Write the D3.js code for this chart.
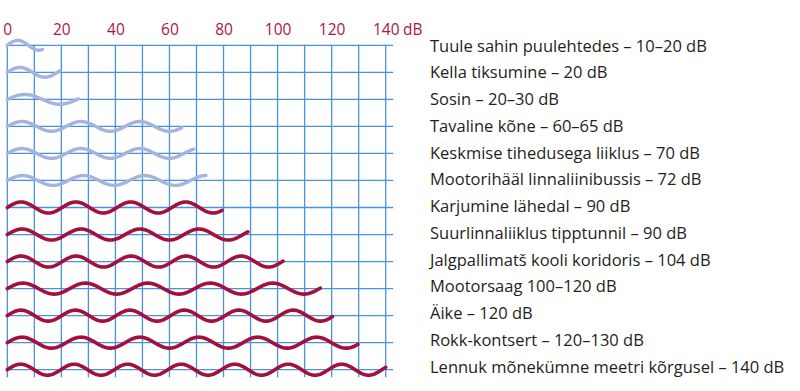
<!DOCTYPE html>
<html>
<head>
<meta charset="utf-8">
<script src="https://cdn.jsdelivr.net/npm/d3@7"></script>
<style>
  html, body { margin: 0; padding: 0; background: #ffffff; }
  svg { display: block; }
</style>
</head>
<body>
<svg id="chart" width="800" height="391"></svg>
<script>
// ---- data ----
const labels = [
  "Tuule sahin puulehtedes – 10–20 dB",
  "Kella tiksumine – 20 dB",
  "Sosin – 20–30 dB",
  "Tavaline kõne – 60–65 dB",
  "Keskmise tihedusega liiklus – 70 dB",
  "Mootorihääl linnaliinibussis – 72 dB",
  "Karjumine lähedal – 90 dB",
  "Suurlinnaliiklus tipptunnil – 90 dB",
  "Jalgpallimatš kooli koridoris – 104 dB",
  "Mootorsaag 100–120 dB",
  "Äike – 120 dB",
  "Rokk-kontsert – 120–130 dB",
  "Lennuk mõnekümne meetri kõrgusel – 140 dB"
];
// length of each drawn wave (dB)
const waveEnd = [13, 19.5, 26.3, 64.5, 69, 73.5, 79.5, 89, 102, 115.8, 120.3, 129.7, 140];
// wavelength of each drawn wave (dB)
const wavePeriod = [15.5, 18.5, 25.9, 21.8, 21.8, 22.6, 20.3, 21.8, 20.35, 23.1, 20.15, 21.8, 19.8];
const loudness = ["quiet","quiet","quiet","quiet","quiet","quiet","loud","loud","loud","loud","loud","loud","loud"];
const tickValues = [0, 20, 40, 60, 80, 100, 120, 140];
const gridValues = [0,10,20,30,40,50,60,70,80,90,100,110,120,130,140];
const unit = "dB";

// ---- layout ----
const svg = d3.select("#chart");
const x = d3.scaleLinear().domain([0, 140]).range([7.3, 385.7]);
const rows = d3.range(labels.length);
const y = d3.scalePoint().domain(rows).range([45.3, 369.7]);
const yText = d3.scalePoint().domain(rows).range([51.7, 372.7]);
const color = d3.scaleOrdinal().domain(["quiet","loud"]).range(["#a6b3df","#a3103b"]);
const amp = d3.scaleOrdinal().domain(["quiet","loud"]).range([4.9, 5.5]);
const gridColor = "#4a92df";
const fontFamily = "'Open Sans', 'Noto Sans', sans-serif";

// grid
const grid = svg.append("g");
grid.selectAll("line.h").data(rows).join("line")
  .attr("class","h")
  .attr("x1", x(0)).attr("x2", x(140) + 7.5)
  .attr("y1", d => y(d)).attr("y2", d => y(d))
  .attr("stroke", gridColor).attr("stroke-width", 1.3);
grid.selectAll("line.v").data(gridValues).join("line")
  .attr("class","v")
  .attr("x1", d => x(d)).attr("x2", d => x(d))
  .attr("y1", y(0) - 0.6).attr("y2", y(rows.length - 1) + 7.5)
  .attr("stroke", gridColor).attr("stroke-width", 1.3);

// top axis labels
const axis = svg.append("g")
  .attr("transform", `translate(0,35)`)
  .call(d3.axisTop(x).tickValues(tickValues).tickSize(0).tickPadding(0));
axis.select(".domain").remove();
axis.selectAll("text")
  .attr("fill", "#b0153f")
  .style("font-family", fontFamily)
  .style("font-size", "15.5px")
  .attr("dy", 0)
  .attr("y", 0);
// unit after last tick
const lastTick = axis.selectAll(".tick").filter(d => d === 140).select("text");
const lastW = lastTick.node().getComputedTextLength();
svg.append("text")
  .attr("x", x(140) + lastW / 2)
  .attr("y", 35)
  .attr("fill", "#b0153f")
  .style("font-family", fontFamily)
  .style("font-size", "15.5px")
  .text("\u00a0" + unit);

// waves
const line = d3.line().x(p => p[0]).y(p => p[1]);
svg.append("g").selectAll("path").data(rows).join("path")
  .attr("d", i => {
    const pts = [];
    const end = waveEnd[i], P = wavePeriod[i], A = amp(loudness[i]);
    const n = Math.ceil(end / 0.2);
    for (let k = 0; k <= n; k++) {
      const d = end * k / n;
      pts.push([x(d), y(i) - A * Math.sin(2 * Math.PI * d / P)]);
    }
    return line(pts);
  })
  .attr("fill", "none")
  .attr("stroke", i => color(loudness[i]))
  .attr("stroke-width", i => loudness[i] === "loud" ? 3.6 : 3.4)
  .attr("stroke-linecap", "round")
  .attr("stroke-linejoin", "round");

// labels
svg.append("g").selectAll("text").data(rows).join("text")
  .attr("x", 430)
  .attr("y", i => yText(i))
  .attr("fill", "#231f20")
  .style("font-family", fontFamily)
  .style("font-size", "16.5px")
  .text(i => labels[i]);
</script>
</body>
</html>
